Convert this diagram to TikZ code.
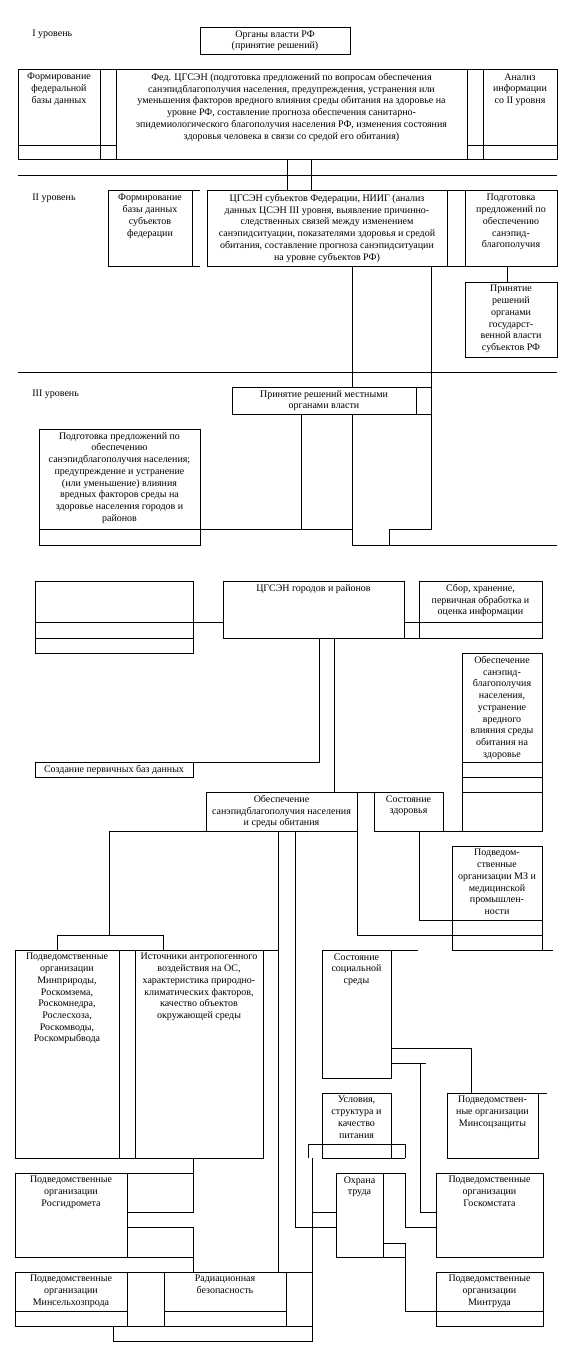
\documentclass[tikz,border=0pt]{standalone}
\usepackage{fontspec}
\setmainfont{Liberation Serif}
\usetikzlibrary{calc}

\begin{document}
\begin{tikzpicture}[x=1pt,y=-1pt,line width=0.8pt,
  lbl/.style={font=\fontsize{10}{11.7}\selectfont,align=center,inner sep=0pt,anchor=north},
  lvl/.style={font=\fontsize{10}{11.7}\selectfont,inner sep=0pt,anchor=west}]
  \useasboundingbox[fill=white] (0,0) rectangle (574,1358);

  % I level
  \node[lvl] (lvlI) at (32,34) {I уровень};
  \draw (200,27) rectangle (350,54);
  \node[lbl] (organy) at (275,30) {Органы власти РФ\\(принятие решений)};
  \draw (18,69) rectangle (557,159);
  \foreach \x in {100,116,467,483} \draw (\x,69) -- (\x,159);
  \draw (18,145) -- (116,145) (467,145) -- (557,145);
  \node[lbl] (fedbase) at (59,73) {Формирование\\федеральной\\базы данных};
  \node[lbl] (fedcgsen) at (291.5,73) {Фед. ЦГСЭН (подготовка предложений по вопросам обеспечения\\санэпидблагополучия населения, предупреждения, устранения или\\уменьшения факторов вредного влияния среды обитания на здоровье на\\уровне РФ, составление прогноза обеспечения санитарно-\\эпидемиологического благополучия населения РФ, изменения состояния\\здоровья человека в связи со средой его обитания)};
  \node[lbl] (analiz) at (520,73) {Анализ\\информации\\со II уровня};
  \draw (18,175) -- (557,175);
  \draw (287,159) -- (287,190) (311,159) -- (311,190);

  % II level
  \node[lvl] (lvlII) at (32,198) {II уровень};
  \draw (108,190) rectangle (192,266) (192,190) -- (200,190) (192,266) -- (200,266);
  \draw (207,190) rectangle (557,266) (447,190) -- (447,266) (465,190) -- (465,266);
  \node[lbl] (subbase) at (150,194) {Формирование\\базы данных\\субъектов\\федерации};
  \node[lbl] (subcgsen) at (327,194) {ЦГСЭН субъектов Федерации, НИИГ (анализ\\данных ЦСЭН III уровня, выявление причинно-\\следственных связей между изменением\\санэпидситуации, показателями здоровья и средой\\обитания, составление прогноза санэпидситуации\\на уровне субъектов РФ)};
  \node[lbl] (podgII) at (511,194) {Подготовка\\предложений по\\обеспечению\\санэпид-\\благополучия};
  \draw (507,266) -- (507,282);
  \draw (465,282) rectangle (557,357);
  \node[lbl] (prinII) at (511,285) {Принятие\\решений\\органами\\государст-\\венной власти\\субъектов РФ};
  \draw (352,266) -- (352,387) (352,414) -- (352,545) -- (557,545);
  \draw (431,266) -- (431,529) -- (389,529) -- (389,545);
  \draw (18,372) -- (557,372);

  % III level
  \node[lvl] (lvlIII) at (32,394) {III уровень};
  \draw (232,387) rectangle (431,414) (416,387) -- (416,414);
  \node[lbl] (prinIII) at (324,390) {Принятие решений местными\\органами власти};
  \draw (301,414) -- (301,529);
  \draw (39,429) rectangle (200,545) (39,529) -- (352,529);
  \node[lbl] (podgIII) at (119.5,432) {Подготовка предложений по\\обеспечению\\санэпидблагополучия населения;\\предупреждение и устранение\\(или уменьшение) влияния\\вредных факторов среды на\\здоровье населения городов и\\районов};

  % towns and districts
  \draw (35,581) rectangle (193,653) (35,622) -- (223,622) (35,638) -- (193,638);
  \draw (223,581) rectangle (404,638);
  \node[lbl] (gorcgsen) at (313.5,584) {ЦГСЭН городов и районов};
  \draw (419,581) rectangle (542,638) (404,622) -- (542,622) (404,638) -- (419,638);
  \node[lbl] (sbor) at (480.5,584) {Сбор, хранение,\\первичная обработка и\\оценка информации};
  \draw (334,638) -- (334,792);
  \draw (319,638) -- (319,762) -- (193,762);
  \draw (35,762) rectangle (193,777);
  \node[lbl,anchor=center] (sozd) at (114,770) {Создание первичных баз данных};
  \draw (462,653) rectangle (542,831);
  \foreach \y in {762,777,792} \draw (462,\y) -- (542,\y);
  \node[lbl] (obespR) at (502,656) {Обеспечение\\санэпид-\\благополучия\\населения,\\устранение\\вредного\\влияния среды\\обитания на\\здоровье};
  \draw (206,792) rectangle (357,831) (357,792) -- (374,792);
  \node[lbl] (obesp) at (281.5,795) {Обеспечение\\санэпидблагополучия населения\\и среды обитания};
  \draw (374,792) rectangle (443,831) (443,831) -- (462,831);
  \node[lbl] (sost) at (408.5,795) {Состояние\\здоровья};
  \draw (357,831) -- (357,935) -- (542,935);
  \draw (419,831) -- (419,920) -- (542,920);
  \draw (452,846) rectangle (542,950) (542,950) -- (553,950);
  \node[lbl] (mz) at (497,849) {Подведом-\\ственные\\организации МЗ и\\медицинской\\промышлен-\\ности};

  % environment branch
  \draw (206,831) -- (109,831) -- (109,935);
  \draw (57,935) rectangle (163,950);
  \draw (278,831) -- (278,1272);
  \draw (295,831) -- (295,1227) -- (336,1227);
  \draw (15,950) rectangle (263,1158) (263,950) -- (278,950);
  \draw (119,950) -- (119,1158) (135,950) -- (135,1158);
  \node[lbl] (minpr) at (67,953) {Подведомственные\\организации\\Минприроды,\\Роскомзема,\\Роскомнедра,\\Рослесхоза,\\Роскомводы,\\Роскомрыбвода};
  \node[lbl] (istoch) at (199,953) {Источники антропогенного\\воздействия на ОС,\\характеристика природно-\\климатических факторов,\\качество объектов\\окружающей среды};
  \draw (15,1173) rectangle (127,1257) (127,1173) -- (193,1173) (127,1257) -- (193,1257);
  \draw (127,1212) -- (193,1212) -- (193,1158) (127,1227) -- (193,1227) -- (193,1272);
  \node[lbl] (gidro) at (71,1176) {Подведомственные\\организации\\Росгидромета};
  \draw (15,1272) rectangle (312,1326);
  \foreach \x in {127,164,286} \draw (\x,1272) -- (\x,1326);
  \draw (15,1311) -- (127,1311) (164,1311) -- (286,1311);
  \node[lbl] (minsel) at (71,1275) {Подведомственные\\организации\\Минсельхозпрода};
  \node[lbl] (rad) at (225,1275) {Радиационная\\безопасность};
  \draw (312,1158) -- (312,1341) -- (113,1341) -- (113,1326);
  \draw (312,1212) -- (336,1212);

  % social branch
  \draw (322,950) rectangle (391,1078) (391,950) -- (418,950);
  \node[lbl] (socsr) at (356.5,953) {Состояние\\социальной\\среды};
  \draw (391,1048) -- (471,1048) -- (471,1093);
  \draw (391,1063) -- (426,1063) (420,1063) -- (420,1212) -- (436,1212);
  \draw (322,1093) rectangle (391,1158) (391,1158) -- (405,1158);
  \node[lbl] (usl) at (356.5,1096) {Условия,\\структура и\\качество\\питания};
  \draw (308,1158) -- (308,1144) -- (405,1144) -- (405,1158);
  \draw (447,1093) rectangle (538,1158) (538,1093) -- (547,1093);
  \node[lbl] (minsoc) at (492.5,1096) {Подведомствен-\\ные организации\\Минсоцзащиты};
  \draw (336,1173) rectangle (383,1257) (383,1173) -- (405,1173) (383,1257) -- (405,1257);
  \node[lbl] (ohrana) at (359.5,1176) {Охрана\\труда};
  \draw (405,1173) -- (405,1227) -- (436,1227);
  \draw (383,1243) -- (405,1243) -- (405,1311) -- (436,1311);
  \draw (436,1173) rectangle (543,1257);
  \node[lbl] (goskom) at (489.5,1176) {Подведомственные\\организации\\Госкомстата};
  \draw (436,1272) rectangle (543,1326) (436,1311) -- (543,1311);
  \node[lbl] (mintr) at (489.5,1275) {Подведомственные\\организации\\Минтруда};
\end{tikzpicture}
\end{document}
